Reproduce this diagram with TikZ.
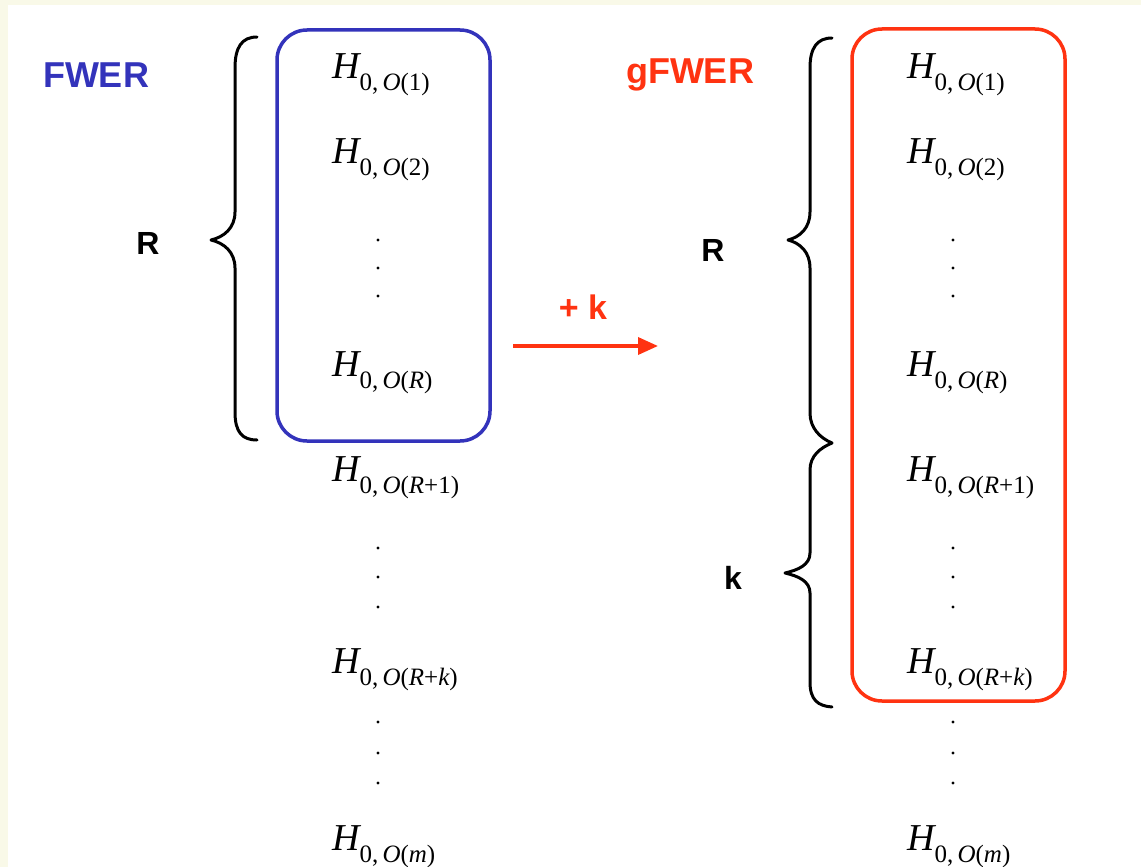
\documentclass[tikz,border=0pt]{standalone}
\usepackage{fontspec}
\setsansfont{Liberation Sans}
\newfontfamily\tms{Liberation Serif}
\usetikzlibrary{arrows.meta}
\definecolor{cream}{RGB}{249,249,232}
\definecolor{fblue}{RGB}{51,51,187}
\definecolor{fred}{RGB}{255,51,17}
\newcommand{\Hsub}[1]{{\tms\fontsize{38}{40}\selectfont\itshape H}\raisebox{-12pt}{\tms\fontsize{25}{28}\selectfont #1}}
\newcommand{\ii}[1]{{\itshape #1}}
\tikzset{
  hyp/.style={anchor=west,inner sep=0pt},
  dotpt/.style={circle,fill=black,inner sep=0pt,minimum size=3.2pt},
  lbl/.style={font=\sffamily\bfseries\fontsize{36}{40}\selectfont,inner sep=0pt},
  sidelbl/.style={font=\sffamily\bfseries\fontsize{32}{36}\selectfont,inner sep=0pt},
  brace/.style={line width=3pt,black,line cap=round,line join=round},
  box/.style={line width=3.5pt,rounded corners=30pt}
}
\begin{document}
\begin{tikzpicture}[x=1pt,y=-1pt]
\useasboundingbox (0,0) rectangle (1141,867);
\fill[cream] (0,0) rectangle (1141,867);
\fill[white] (8,5) rectangle (1141,867);

% titles
\node[lbl,text=fblue] (fwer) at (96,75) {FWER};
\node[lbl,text=fred] (gfwer) at (690,75) {gFWER};

% boxes
\draw[box,fblue] (277,30) rectangle (490,441);
\draw[box,fred] (852,29) rectangle (1065,701);

% left column
\node[hyp] (l1) at (332,75) {\Hsub{0,\,\ii{O}(1)}};
\node[hyp] (l2) at (332,160) {\Hsub{0,\,\ii{O}(2)}};
\node[dotpt] (ld1) at (378,240) {};
\node[dotpt] (ld2) at (378,268) {};
\node[dotpt] (ld3) at (378,296) {};
\node[hyp] (lR) at (332,373) {\Hsub{0,\,\ii{O}(\ii{R})}};
\node[hyp] (lR1) at (332,478) {\Hsub{0,\,\ii{O}(\ii{R}+1)}};
\node[dotpt] (ld4) at (378,548) {};
\node[dotpt] (ld5) at (378,577) {};
\node[dotpt] (ld6) at (378,607) {};
\node[hyp] (lRk) at (332,670) {\Hsub{0,\,\ii{O}(\ii{R}+\ii{k})}};
\node[dotpt] (ld7) at (378,722) {};
\node[dotpt] (ld8) at (378,753) {};
\node[dotpt] (ld9) at (378,783) {};
\node[hyp] (lm) at (332,847) {\Hsub{0,\,\ii{O}(\ii{m})}};

% right column
\node[hyp] (r1) at (907,75) {\Hsub{0,\,\ii{O}(1)}};
\node[hyp] (r2) at (907,160) {\Hsub{0,\,\ii{O}(2)}};
\node[dotpt] (rd1) at (953,240) {};
\node[dotpt] (rd2) at (953,268) {};
\node[dotpt] (rd3) at (953,296) {};
\node[hyp] (rR) at (907,373) {\Hsub{0,\,\ii{O}(\ii{R})}};
\node[hyp] (rR1) at (907,478) {\Hsub{0,\,\ii{O}(\ii{R}+1)}};
\node[dotpt] (rd4) at (953,548) {};
\node[dotpt] (rd5) at (953,577) {};
\node[dotpt] (rd6) at (953,607) {};
\node[hyp] (rRk) at (907,670) {\Hsub{0,\,\ii{O}(\ii{R}+\ii{k})}};
\node[dotpt] (rd7) at (953,722) {};
\node[dotpt] (rd8) at (953,753) {};
\node[dotpt] (rd9) at (953,783) {};
\node[hyp] (rm) at (907,847) {\Hsub{0,\,\ii{O}(\ii{m})}};

% side labels
\node[sidelbl] (lRl) at (148,243) {R};
\node[sidelbl] (rRl) at (713,250) {R};
\node[sidelbl] (rkl) at (733,578) {k};

% left brace
\draw[brace] (257,37) .. controls (242,37) and (235,47) .. (235,68)
  -- (235,212) .. controls (235,228) and (224,237) .. (211,240)
  .. controls (224,243) and (235,252) .. (235,268)
  -- (235,412) .. controls (235,432) and (242,440) .. (257,440);

% right R brace
\draw[brace] (832,38) .. controls (817,38) and (810,48) .. (810,68)
  -- (810,212) .. controls (810,228) and (800,237) .. (788,240)
  .. controls (800,243) and (810,252) .. (810,268)
  -- (810,413) .. controls (810,428) and (820,438) .. (832,443);
% right k brace
\draw[brace] (832,443) .. controls (820,448) and (810,456) .. (810,470)
  -- (810,553) .. controls (810,565) and (798,570) .. (785,573)
  .. controls (798,576) and (810,581) .. (810,593)
  -- (810,682) .. controls (810,700) and (818,706) .. (832,707);

% arrow
\coordinate (a1) at (513,346);
\coordinate (a2) at (658,346);
\draw[fred,line width=3.5pt,-{Triangle[length=20pt,width=17pt]}] (a1) -- (a2);
\node[lbl,text=fred,font=\sffamily\bfseries\fontsize{34}{38}\selectfont] (pk) at (583,307) {+ k};
\end{tikzpicture}
\end{document}
